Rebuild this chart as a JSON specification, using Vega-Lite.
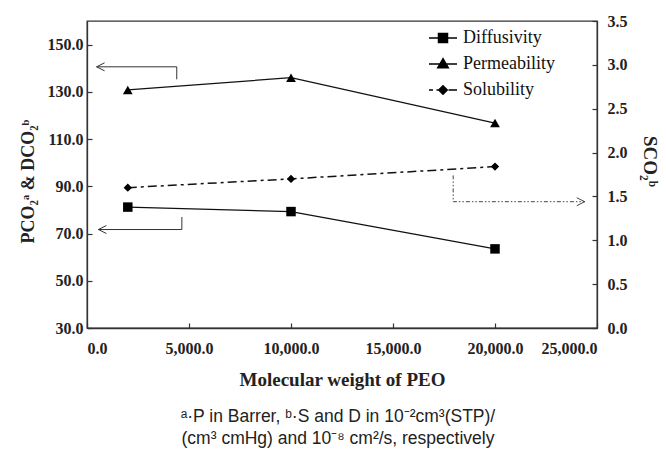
{
  "$schema": "https://vega.github.io/schema/vega-lite/v6.json",
  "width": 510,
  "height": 307,
  "autosize": "none",
  "padding": {"left": 87, "top": 21, "right": 69, "bottom": 122},
  "background": "white",
  "title": {
    "text": ["ᵃ·P in Barrer, ᵇ·S and D in 10⁻²cm³(STP)/", "(cm³ cmHg) and 10⁻⁸ cm²/s, respectively"],
    "orient": "bottom",
    "anchor": "middle",
    "font": "Liberation Sans",
    "fontSize": 17.5,
    "fontWeight": "normal",
    "lineHeight": 22,
    "offset": 19,
    "dx": -4,
    "color": "#222"
  },
  "config": {
    "view": {"stroke": "#333", "strokeWidth": 1.3},
    "axis": {
      "grid": false,
      "domainColor": "#333",
      "domainWidth": 1.3,
      "tickColor": "#333",
      "tickSize": -5,
      "tickWidth": 1.2,
      "labelFont": "Liberation Serif",
      "labelFontSize": 16,
      "labelFontWeight": "bold",
      "labelColor": "#222",
      "titleFont": "Liberation Serif",
      "titleFontSize": 19,
      "titleFontWeight": "bold",
      "titleColor": "#222"
    }
  },
  "datasets": {
    "series": [
      {"series": "Diffusivity", "x": 2000, "y": 81.2},
      {"series": "Diffusivity", "x": 10000, "y": 79.3},
      {"series": "Diffusivity", "x": 20000, "y": 63.5},
      {"series": "Permeability", "x": 2000, "y": 130.8},
      {"series": "Permeability", "x": 10000, "y": 136.0},
      {"series": "Permeability", "x": 20000, "y": 116.8},
      {"series": "Solubility", "x": 2000, "y": 1.6},
      {"series": "Solubility", "x": 10000, "y": 1.7},
      {"series": "Solubility", "x": 20000, "y": 1.84}
    ],
    "arrows": [
      {"id": "top", "i": 1, "x": 4400, "y": 135.3},
      {"id": "top", "i": 2, "x": 4400, "y": 140.6},
      {"id": "top", "i": 3, "x": 470, "y": 140.6},
      {"id": "bottom", "i": 1, "x": 4650, "y": 77.0},
      {"id": "bottom", "i": 2, "x": 4650, "y": 71.7},
      {"id": "bottom", "i": 3, "x": 560, "y": 71.7},
      {"id": "right", "i": 1, "x": 17950, "y": 1.74},
      {"id": "right", "i": 2, "x": 17950, "y": 1.44},
      {"id": "right", "i": 3, "x": 24400, "y": 1.44}
    ],
    "tips": [
      {"id": "top", "x": 470, "y": 140.6},
      {"id": "bottom", "x": 560, "y": 71.7},
      {"id": "right", "x": 24400, "y": 1.44}
    ],
    "legend": [
      {"series": "Diffusivity"},
      {"series": "Permeability"},
      {"series": "Solubility"}
    ]
  },
  "layer": [
    {
      "encoding": {
        "x": {
          "field": "x", "type": "quantitative",
          "scale": {"domain": [0, 25000], "nice": false},
          "axis": {"values": [0, 5000, 10000, 15000, 20000, 25000], "format": ",.1f", "title": "Molecular weight of PEO", "labelPadding": 17, "titlePadding": 14}
        },
        "y": {
          "field": "y", "type": "quantitative",
          "scale": {"domain": [30, 160], "nice": false, "zero": false},
          "axis": {"orient": "left", "values": [30, 50, 70, 90, 110, 130, 150], "format": ".1f", "title": "PCO₂ᵃ & DCO₂ᵇ", "titleFontSize": 18, "labelPadding": 9, "titlePadding": 10, "titleY": 160}
        }
      },
      "layer": [
        {
          "data": {"name": "series"},
          "transform": [{"filter": "datum.series !== 'Solubility'"}],
          "mark": {"type": "line", "color": "#111", "strokeWidth": 1.3},
          "encoding": {"detail": {"field": "series"}}
        },
        {
          "data": {"name": "series"},
          "transform": [{"filter": "datum.series === 'Diffusivity'"}],
          "mark": {"type": "point", "shape": "square", "filled": true, "color": "#000", "size": 90, "opacity": 1}
        },
        {
          "data": {"name": "series"},
          "transform": [{"filter": "datum.series === 'Permeability'"}],
          "mark": {"type": "point", "shape": "triangle-up", "filled": true, "color": "#000", "size": 95, "opacity": 1}
        },
        {
          "data": {"name": "arrows"},
          "transform": [{"filter": "datum.id !== 'right'"}],
          "mark": {"type": "line", "color": "#333", "strokeWidth": 1},
          "encoding": {"detail": {"field": "id"}, "order": {"field": "i", "type": "quantitative"}}
        },
        {
          "data": {"name": "tips"},
          "transform": [{"filter": "datum.id !== 'right'"}],
          "mark": {"type": "point", "shape": "M2,-1L0,0L2,1", "filled": false, "color": "#333", "strokeWidth": 1, "size": 64, "opacity": 1}
        },
        {
          "data": {"name": "legend"},
          "mark": {"type": "point", "filled": true, "color": "#000", "stroke": "#000", "strokeWidth": 1.5, "size": 100, "opacity": 0},
          "encoding": {
            "x": {"datum": 12500},
            "y": {"datum": 95},
            "shape": {
              "field": "series", "type": "nominal",
              "scale": {
                "domain": ["Diffusivity", "Permeability", "Solubility"],
                "range": [
                  "M-2.8,0L2.8,0M-0.9,-0.9L0.9,-0.9L0.9,0.9L-0.9,0.9Z",
                  "M-2.8,0L2.8,0M0,-1.05L1.05,0.75L-1.05,0.75Z",
                  "M-2.8,0L-2.0,0M-1.3,0L-0.9,0M1.1,0L2.8,0M0,-0.85L0.85,0L0,0.85L-0.85,0Z"
                ]
              },
              "legend": {
                "title": null,
                "orient": "none",
                "legendX": 347,
                "legendY": 8,
                "padding": 0,
                "labelFont": "Liberation Serif",
                "labelFontSize": 18,
                "labelColor": "#111",
                "labelOffset": 11,
                "rowPadding": 8,
                "symbolSize": 100,
                "encode": {
                  "symbols": {
                    "update": {
                      "opacity": {"value": 1},
                      "fill": {"value": "#000"},
                      "stroke": {"value": "#000"},
                      "strokeWidth": {"value": 1.5},
                      "fillOpacity": {"value": 1},
                      "strokeOpacity": {"value": 1}
                    }
                  }
                }
              }
            }
          }
        }
      ]
    },
    {
      "encoding": {
        "x": {"field": "x", "type": "quantitative", "scale": {"domain": [0, 25000], "nice": false}},
        "y": {
          "field": "y", "type": "quantitative",
          "scale": {"domain": [0, 3.5], "nice": false},
          "axis": {"orient": "right", "values": [0, 0.5, 1, 1.5, 2, 2.5, 3, 3.5], "format": ".1f", "title": "SCO₂ᵇ", "labelPadding": 15, "titlePadding": 12, "titleY": 140}
        }
      },
      "layer": [
        {
          "data": {"name": "series"},
          "transform": [{"filter": "datum.series === 'Solubility'"}],
          "mark": {"type": "line", "color": "#111", "strokeWidth": 1.5, "strokeDash": [9, 4, 3, 4]}
        },
        {
          "data": {"name": "series"},
          "transform": [{"filter": "datum.series === 'Solubility'"}],
          "mark": {"type": "point", "shape": "diamond", "filled": true, "color": "#000", "size": 70, "opacity": 1}
        },
        {
          "data": {"name": "arrows"},
          "transform": [{"filter": "datum.id === 'right'"}],
          "mark": {"type": "line", "color": "#444", "strokeWidth": 1, "strokeDash": [4, 2, 1.5, 2, 1.5, 2]},
          "encoding": {"detail": {"field": "id"}, "order": {"field": "i", "type": "quantitative"}}
        },
        {
          "data": {"name": "tips"},
          "transform": [{"filter": "datum.id === 'right'"}],
          "mark": {"type": "point", "shape": "M-2,-1L0,0L-2,1", "filled": false, "color": "#444", "strokeWidth": 1, "size": 64, "opacity": 1}
        }
      ]
    }
  ],
  "resolve": {"scale": {"y": "independent"}}
}
